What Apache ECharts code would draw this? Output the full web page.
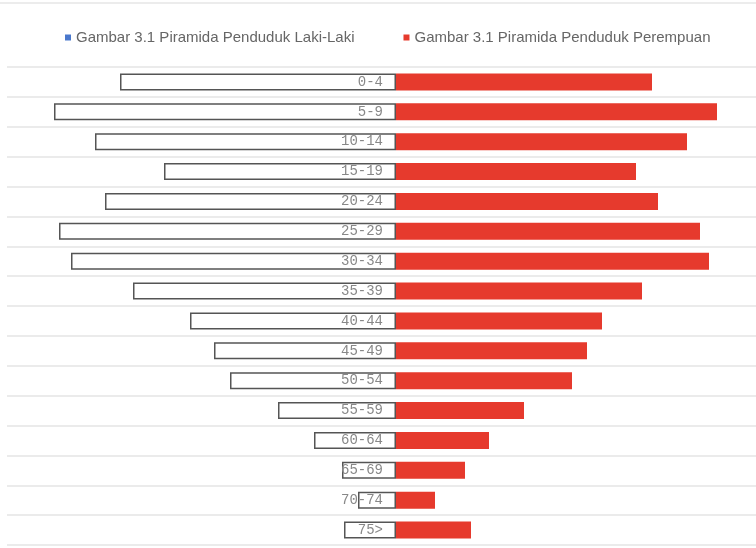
<!DOCTYPE html>
<html>
<head>
<meta charset="utf-8">
<script src="https://cdn.jsdelivr.net/npm/echarts@6/dist/echarts.min.js"></script>
<style>
  html, body { margin: 0; padding: 0; background: #fff; }
  #chart { width: 756px; height: 548px; }
</style>
</head>
<body>
<div id="chart"></div>
<script>
const ageGroups = ['0-4', '5-9', '10-14', '15-19', '20-24', '25-29', '30-34', '35-39',
  '40-44', '45-49', '50-54', '55-59', '60-64', '65-69', '70-74', '75>'];
const maleValues = [276, 342, 301, 232, 291, 337, 325, 263, 206, 182, 166, 118, 82, 54, 38, 52];
const femaleValues = [256, 321, 291, 240, 262, 304, 313, 246, 206, 191, 176, 128, 93, 69, 39, 75];

const maleName = 'Gambar 3.1 Piramida Penduduk Laki-Laki';
const femaleName = 'Gambar 3.1 Piramida Penduduk Perempuan';

const chart = echarts.init(document.getElementById('chart'));
const option = {
  backgroundColor: '#ffffff',
  animation: false,
  legend: {
    left: 60, top: 25,
    itemWidth: 6, itemHeight: 6, itemGap: 49,
    icon: 'rect',
    textStyle: { color: '#666', fontSize: 15, fontFamily: 'Liberation Sans' },
    data: [
      { name: maleName, itemStyle: { color: '#4a78cc', borderWidth: 0 } },
      { name: femaleName, itemStyle: { color: '#e63a2d', borderWidth: 0 } }
    ]
  },
  graphic: [{
    type: 'rect', shape: { x: 0, y: 2, width: 756, height: 2 },
    style: { fill: '#ececec' }
  }],
  grid: { left: 7, right: 0, top: 67, bottom: 3, containLabel: false, outerBoundsMode: 'none' },
  xAxis: {
    type: 'value', min: -389, max: 360,
    show: false
  },
  yAxis: {
    type: 'category', inverse: true, data: ageGroups,
    axisLine: { show: false },
    axisTick: { show: false },
    axisLabel: { show: false },
    splitLine: { show: true, lineStyle: { color: '#e4e4e4', width: 1.5 } }
  },
  series: [
    {
      name: maleName, type: 'bar', barWidth: '57%', barGap: '-100%',
      data: maleValues.map(v => -v),
      itemStyle: { color: '#ffffff', borderColor: '#555', borderWidth: 1.5 },
      label: {
        show: true, position: 'insideRight', distance: 13, formatter: '{b}',
        color: '#888', fontSize: 14, fontFamily: 'Liberation Mono'
      }
    },
    {
      name: femaleName, type: 'bar', barWidth: '57%',
      data: femaleValues,
      itemStyle: { color: '#e63a2d' }
    }
  ]
};
chart.setOption(option);
</script>
</body>
</html>
